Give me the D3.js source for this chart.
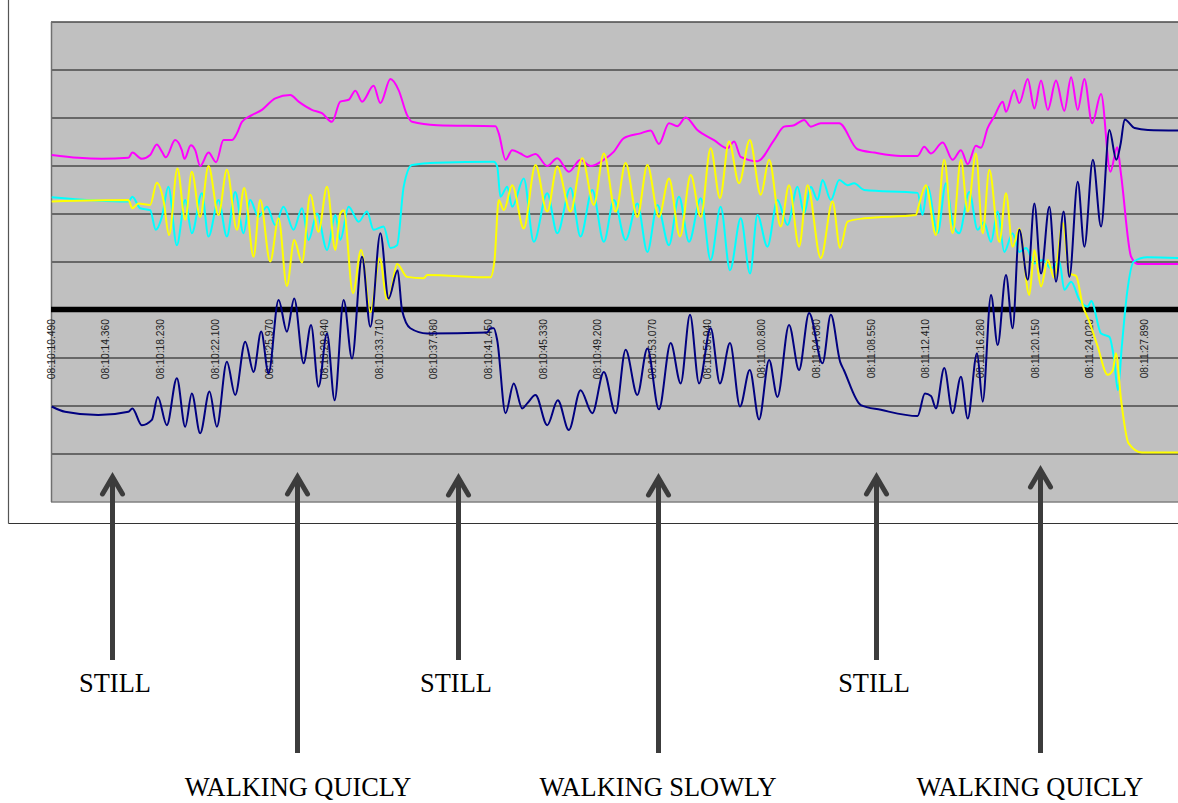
<!DOCTYPE html>
<html><head><meta charset="utf-8">
<script src="https://cdn.jsdelivr.net/npm/d3@7"></script>
<style>body{margin:0;background:#fff;} svg{display:block;}</style>
</head><body><svg id="c" width="1178" height="803"></svg>
<script>
// ---- DATA ----
const tickLabels = ["08:10:10.490","08:10:14.360","08:10:18.230","08:10:22.100","08:10:25.970","08:10:29.840","08:10:33.710","08:10:37.580","08:10:41.450","08:10:45.330","08:10:49.200","08:10:53.070","08:10:56.940","08:11:00.800","08:11:04.680","08:11:08.550","08:11:12.410","08:11:16.280","08:11:20.150","08:11:24.020","08:11:27.890"];

// [seconds since 08:10:10.490, value]
const magenta = [[0.05,3.23],[1.93,3.17],[3.59,3.15],[5.48,3.17],[5.76,3.28],[6.43,3.15],[7.02,3.23],[7.49,3.45],[7.85,3.30],[8.13,3.18],[8.79,3.54],[9.26,3.33],[9.45,3.15],[9.90,3.43],[10.21,3.33],[10.56,3.00],[11.15,3.28],[11.69,3.08],[12.21,3.54],[12.81,3.54],[13.16,3.68],[13.52,3.92],[14.22,4.06],[14.93,4.17],[15.88,4.41],[16.94,4.48],[17.53,4.34],[18.47,4.17],[19.18,4.10],[19.89,3.92],[20.48,4.34],[21.07,4.38],[21.55,4.57],[22.02,4.34],[22.84,4.67],[23.32,4.31],[24.03,4.81],[24.61,4.58],[25.21,4.06],[25.56,3.92],[27.34,3.85],[31.47,3.83],[31.70,3.68],[32.18,3.13],[32.65,3.33],[33.24,3.26],[33.71,3.19],[34.30,3.25],[35.13,3.00],[35.84,3.16],[36.66,2.88],[37.49,3.13],[38.20,3.00],[39.14,3.13],[39.85,3.30],[40.56,3.58],[41.74,3.68],[42.45,3.74],[43.04,3.46],[43.75,3.89],[44.34,3.83],[44.93,4.01],[45.76,3.75],[46.94,3.54],[47.89,3.37],[48.36,3.51],[48.83,3.19],[50.01,3.10],[51.19,3.54],[51.90,3.82],[52.61,3.85],[53.32,3.96],[53.79,3.82],[54.50,3.89],[55.80,3.89],[57.10,3.35],[58.28,3.28],[60.17,3.21],[61.35,3.21],[61.82,3.40],[62.30,3.26],[63.13,3.49],[63.83,3.13],[64.42,3.33],[64.90,3.04],[65.48,3.42],[65.84,3.38],[66.31,3.79],[66.78,4.03],[67.38,4.34],[67.61,4.13],[68.20,4.58],[68.55,4.31],[69.15,4.81],[69.62,4.20],[70.09,4.78],[70.57,4.17],[71.15,4.78],[71.74,4.15],[72.22,4.85],[72.69,4.17],[73.16,4.81],[73.71,3.89],[74.34,4.50],[75.00,2.88],[75.48,3.39],[75.76,2.81],[76.47,1.11],[76.94,0.96],[79.87,0.96]];

const cyan = [[0.05,2.35],[5.48,2.26],[5.76,2.36],[6.31,2.12],[7.02,2.08],[7.42,1.67],[7.85,1.94],[8.31,2.57],[8.91,1.35],[9.50,2.29],[9.97,1.60],[10.68,2.43],[11.15,1.53],[11.86,2.29],[12.45,1.53],[13.04,2.46],[13.63,1.60],[14.10,2.29],[14.69,1.94],[15.29,2.15],[15.88,1.77],[16.46,2.15],[17.17,1.67],[17.77,2.12],[18.24,1.46],[18.83,2.01],[19.54,1.25],[20.13,1.98],[20.48,1.46],[21.07,2.15],[21.78,1.84],[22.37,2.05],[22.84,1.67],[23.55,1.74],[24.03,1.29],[24.50,1.35],[24.97,2.57],[25.56,3.02],[27.34,3.07],[31.35,3.09],[31.59,2.99],[31.82,2.36],[32.30,2.57],[32.65,2.15],[33.47,2.74],[34.18,1.42],[35.13,2.43],[35.84,1.60],[36.78,2.54],[37.49,1.53],[38.32,2.50],[39.14,1.42],[39.85,2.29],[40.68,1.46],[41.51,2.22],[42.22,1.21],[42.93,2.19],[43.75,1.35],[44.46,2.36],[45.17,1.42],[46.00,2.33],[46.70,1.04],[47.41,2.15],[48.07,0.83],[48.83,1.91],[49.49,0.76],[50.01,1.98],[50.72,1.32],[51.43,2.29],[52.14,1.77],[52.85,2.57],[53.32,2.01],[53.79,2.57],[54.27,2.29],[54.62,2.71],[55.21,2.29],[55.80,2.71],[56.39,2.60],[56.86,2.64],[57.57,2.50],[61.35,2.44],[61.70,1.98],[62.06,2.57],[62.77,1.60],[63.36,2.64],[63.83,1.81],[64.30,1.60],[65.01,2.46],[65.60,1.67],[66.05,1.83],[66.55,1.42],[67.02,2.05],[67.49,1.21],[68.08,1.60],[68.55,1.21],[69.03,1.29],[69.62,0.97],[70.21,1.04],[70.80,0.87],[71.39,1.01],[71.74,0.42],[72.22,0.59],[72.81,0.21],[73.40,0.07],[73.64,0.19],[74.34,-0.49],[74.93,-0.56],[75.27,-1.04],[75.53,-1.67],[75.81,-0.76],[76.18,0.35],[76.66,1.01],[77.61,1.10],[79.87,1.08]];

const yellow = [[0.05,2.26],[5.48,2.29],[5.76,2.12],[6.19,2.22],[7.02,2.19],[7.49,2.65],[7.96,2.29],[8.36,1.56],[8.95,2.95],[9.50,1.88],[9.97,2.88],[10.56,1.94],[11.15,3.00],[11.86,1.98],[12.45,2.92],[13.16,1.67],[13.68,2.54],[14.34,1.11],[14.81,2.29],[15.52,1.01],[16.11,1.91],[16.70,0.50],[17.22,1.46],[17.77,0.99],[18.36,2.40],[18.94,1.63],[19.54,2.57],[20.13,1.25],[20.48,2.01],[20.72,2.08],[21.38,0.35],[21.95,1.25],[22.61,-0.04],[23.27,1.08],[23.79,0.22],[24.03,0.35],[24.50,0.96],[25.21,0.69],[26.39,0.66],[26.63,0.73],[31.11,0.68],[31.40,1.04],[31.70,2.29],[32.06,2.08],[32.65,2.60],[33.47,1.70],[34.30,3.02],[35.13,2.05],[35.84,2.99],[36.78,2.05],[37.61,3.16],[38.43,2.19],[39.14,3.26],[39.97,2.05],[40.68,3.06],[41.51,1.94],[42.22,3.02],[43.04,1.94],[43.75,2.74],[44.53,1.53],[45.29,2.81],[46.00,1.94],[46.70,3.37],[47.36,2.33],[48.00,3.51],[48.71,2.64],[49.47,3.54],[50.25,2.40],[50.84,3.13],[51.66,1.74],[52.25,2.60],[52.96,1.32],[53.56,2.60],[54.50,1.08],[55.33,2.26],[55.87,1.29],[56.39,1.84],[57.57,1.91],[61.23,1.98],[61.45,2.19],[61.94,2.60],[62.65,1.56],[63.24,3.13],[63.83,1.60],[64.42,3.13],[64.90,2.05],[65.48,3.26],[65.96,1.60],[66.43,2.92],[67.14,1.42],[67.61,2.43],[68.08,1.32],[68.55,1.70],[69.26,0.31],[69.62,1.25],[70.09,0.49],[70.57,1.04],[71.02,0.67],[71.63,1.81],[72.10,0.76],[72.57,0.71],[73.04,0.10],[73.51,-0.24],[74.10,-0.76],[74.81,-1.35],[75.18,-1.25],[75.39,-0.90],[75.76,-1.88],[76.29,-2.78],[77.23,-2.97],[79.87,-2.97]];

const navy = [[0.05,-2.01],[0.99,-2.12],[3.35,-2.19],[5.48,-2.12],[5.76,-2.05],[6.43,-2.40],[7.14,-2.29],[7.56,-1.81],[8.20,-2.40],[8.91,-1.42],[9.50,-2.43],[9.97,-1.74],[10.56,-2.57],[11.22,-1.70],[11.74,-2.43],[12.45,-1.08],[13.04,-1.77],[13.75,-0.66],[14.34,-1.29],[14.88,-0.45],[15.40,-1.32],[16.11,0.21],[16.70,-0.45],[17.22,0.24],[17.88,-1.11],[18.41,-0.31],[18.94,-1.60],[19.54,-0.49],[20.08,-1.88],[20.72,0.21],[21.31,-1.01],[22.02,1.11],[22.61,-0.35],[23.32,1.60],[23.90,0.24],[24.54,0.83],[24.85,0.00],[25.44,-0.38],[26.63,-0.49],[30.88,-0.47],[31.11,-0.38],[31.35,-0.38],[31.59,-0.63],[32.18,-2.15],[32.76,-1.53],[33.36,-2.05],[33.73,-1.94],[34.30,-1.77],[35.13,-2.40],[35.88,-1.88],[36.66,-2.50],[37.49,-1.67],[38.32,-2.15],[39.14,-1.29],[39.97,-2.15],[40.68,-0.83],[41.51,-1.77],[42.22,-0.80],[43.04,-2.07],[43.87,-0.69],[44.58,-1.53],[45.24,-0.10],[45.88,-1.53],[46.70,-0.38],[47.36,-1.53],[48.07,-0.69],[48.78,-2.01],[49.47,-1.25],[50.13,-2.28],[50.84,-1.04],[51.43,-1.81],[52.25,-0.31],[52.96,-1.25],[53.67,-0.06],[54.62,-1.11],[55.21,-0.10],[55.87,-1.08],[56.13,-1.25],[57.33,-1.98],[58.75,-2.08],[61.35,-2.21],[61.87,-1.74],[62.30,-1.79],[62.65,-2.05],[63.24,-1.21],[63.83,-2.15],[64.42,-1.39],[64.90,-2.26],[65.56,-0.90],[65.96,-1.91],[66.55,0.31],[67.02,-0.73],[67.61,0.73],[68.08,-0.38],[68.55,1.67],[69.15,0.63],[69.62,2.22],[70.09,0.76],[70.68,2.15],[71.15,0.59],[71.69,2.05],[72.10,0.69],[72.69,2.67],[73.16,1.32],[73.76,3.13],[74.34,1.74],[74.93,3.75],[75.42,3.13],[75.73,3.47],[76.01,3.97],[76.72,3.79],[77.66,3.75],[79.87,3.74]];

const annotationLabels = ["STILL","WALKING QUICLY","STILL","WALKING SLOWLY","STILL","WALKING QUICLY"];
const arrowTimes = [4.32, 17.4, 28.8, 43.0, 58.4, 70.0];
const labelTimes = [4.53, 17.49, 28.67, 42.98, 58.27, 69.31];

// ---- LAYOUT ----
const svg = d3.select('#c');
const x = d3.scaleLinear().domain([0, 80]).range([51, 1181]);
const y = d3.scaleLinear().domain([-4, 6]).range([502, 22]);

// outer frame
svg.append('line').attr('x1',8.5).attr('y1',0).attr('x2',8.5).attr('y2',523.5).attr('stroke','#555').attr('stroke-width',1.2);
svg.append('line').attr('x1',8.5).attr('y1',523.5).attr('x2',1178).attr('y2',523.5).attr('stroke','#333').attr('stroke-width',1.2);

// plot area
svg.append('rect').attr('x',51).attr('y',22).attr('width',1181-51).attr('height',480).attr('fill','#c0c0c0');
svg.append('defs').append('clipPath').attr('id','clip').append('rect').attr('x',51).attr('y',22).attr('width',1181-51).attr('height',480);

const gridVals = d3.range(-3, 7);
svg.append('g').selectAll('line').data(gridVals.filter(v=>v!==0)).join('line')
  .attr('x1',51).attr('x2',1181).attr('y1',d=>y(d)).attr('y2',d=>y(d))
  .attr('stroke','#4a4a4a').attr('stroke-width',1.4);
// bottom and left borders
svg.append('line').attr('x1',51).attr('x2',1181).attr('y1',y(-4)).attr('y2',y(-4)).attr('stroke','#808080').attr('stroke-width',1.4);
svg.append('line').attr('x1',51.5).attr('x2',51.5).attr('y1',22).attr('y2',502).attr('stroke','#707070').attr('stroke-width',1.5);

// tick labels
const sec = s => { const p = s.split(':'); return +p[0]*3600 + +p[1]*60 + +p[2]; };
const t0 = sec(tickLabels[0]);
svg.append('g').selectAll('text').data(tickLabels).join('text')
  .attr('transform', d => `translate(${x(sec(d)-t0)},319) rotate(-90)`)
  .attr('text-anchor','end').attr('dy','0.35em')
  .attr('font-family','"Liberation Sans", Arial, sans-serif').attr('font-size',10.3)
  .attr('fill','#222').text(d=>d);

// zero line
svg.append('line').attr('x1',51).attr('x2',1181).attr('y1',y(0)-0.5).attr('y2',y(0)-0.5).attr('stroke','#000').attr('stroke-width',5.5);

// series
const line = d3.line().x(d=>x(d[0])).y(d=>y(d[1])).curve(d3.curveMonotoneX);
const series = [
  {data: magenta, color: '#ff00ff'},
  {data: cyan, color: '#00ffff'},
  {data: yellow, color: '#ffff00'},
  {data: navy, color: '#000080'}
];
svg.append('g').attr('clip-path','url(#clip)').selectAll('path').data(series).join('path')
  .attr('d', d=>line(d.data)).attr('fill','none').attr('stroke', d=>d.color)
  .attr('stroke-width', 2).attr('stroke-linejoin','round');

// annotations
const tipY = [475,475,476,476,475,468];
const rows = [0,1,0,1,0,1];
const g = svg.append('g');
annotationLabels.forEach((lab, i) => {
  const ax = Math.round(x(arrowTimes[i])) + 0.5;
  const bottom = rows[i] === 0 ? 660 : 753;
  const tip = tipY[i];
  g.append('line').attr('x1',ax).attr('x2',ax).attr('y1',tip+3).attr('y2',bottom)
    .attr('stroke','#3c3c3c').attr('stroke-width',5);
  g.append('path').attr('d',`M${ax-10},${tip+19} L${ax},${tip+2} L${ax+10},${tip+19}`)
    .attr('fill','none').attr('stroke','#3c3c3c').attr('stroke-width',5).attr('stroke-linecap','round').attr('stroke-linejoin','miter');
  g.append('text').attr('x', x(labelTimes[i])).attr('y', rows[i] === 0 ? 692 : 796)
    .attr('text-anchor','middle').attr('font-family','"Liberation Serif", "Times New Roman", serif')
    .attr('font-size',26.4).attr('fill','#000').text(lab);
});
</script>
</body></html>
